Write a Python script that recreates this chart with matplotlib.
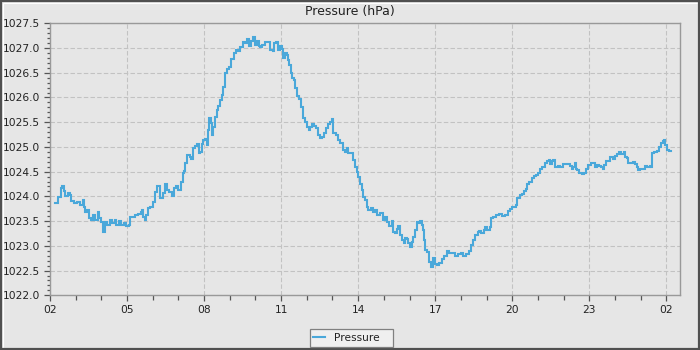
import matplotlib
matplotlib.use("Agg")
import matplotlib.pyplot as plt
from matplotlib.patches import Rectangle
from matplotlib.ticker import MultipleLocator, FixedLocator, FuncFormatter

# Minutes after 02:00 for each reading
minutes = [
    12, 19, 25, 28, 33, 35, 42, 46, 50, 56, 64, 69, 77, 79, 82, 87, 92, 95, 100, 104,
    111, 114, 118, 124, 128, 134, 140, 145, 151, 155, 161, 167, 173, 178, 184, 187, 194, 199, 206, 212,
    215, 217, 221, 225, 229, 234, 241, 245, 251, 257, 263, 269, 273, 279, 285, 290, 294, 300, 305, 310,
    313, 316, 319, 326, 329, 333, 339, 343, 348, 351, 355, 358, 362, 366, 370, 372, 376, 379, 382, 385,
    390, 393, 397, 401, 405, 409, 413, 418, 422, 427, 430, 435, 440, 444, 450, 456, 461, 466, 470, 474,
    478, 483, 488, 491, 496, 502, 509, 514, 520, 524, 527, 532, 538, 541, 545, 549, 553, 556, 559, 562,
    565, 569, 573, 577, 582, 587, 590, 596, 601, 605, 608, 613, 618, 622, 626, 631, 636, 641, 646, 650,
    655, 658, 662, 668, 674, 678, 684, 689, 693, 697, 705, 709, 713, 717, 720, 724, 728, 732, 736, 740,
    744, 749, 754, 760, 764, 770, 775, 779, 783, 788, 793, 799, 802, 806, 810, 814, 818, 822, 826, 830,
    833, 837, 841, 845, 849, 853, 857, 861, 865, 869, 872, 875, 877, 882, 886, 890, 894, 899, 905, 910,
    915, 921, 927, 932, 935, 941, 946, 954, 960, 966, 972, 978, 983, 988, 993, 999, 1003, 1008, 1013, 1017,
    1022, 1027, 1030, 1036, 1042, 1048, 1056, 1063, 1069, 1075, 1080, 1084, 1089, 1092, 1097, 1102, 1108, 1112, 1115, 1120,
    1126, 1131, 1136, 1141, 1145, 1149, 1153, 1157, 1161, 1165, 1168, 1172, 1176, 1180, 1186, 1192, 1198, 1204, 1209, 1215,
    1219, 1223, 1227, 1229, 1232, 1237, 1243, 1248, 1253, 1258, 1264, 1268, 1273, 1278, 1282, 1287, 1292, 1295, 1299, 1305,
    1309, 1315, 1320, 1324, 1329, 1334, 1340, 1344, 1348, 1351, 1357, 1362, 1367, 1371, 1375, 1379, 1385, 1391, 1396, 1401,
    1404, 1407, 1412, 1418, 1422, 1427, 1432, 1435, 1438, 1441, 1446, 1451,
]

# Station pressure in hPa
pressure = [
    1023.86, 1023.99, 1024.16, 1024.20, 1024.10, 1024.01, 1024.06, 1024.03, 1023.91, 1023.86,
    1023.89, 1023.83, 1023.93, 1023.79, 1023.69, 1023.72, 1023.56, 1023.52, 1023.62, 1023.52,
    1023.69, 1023.56, 1023.49, 1023.29, 1023.49, 1023.42, 1023.52, 1023.46, 1023.52, 1023.42,
    1023.51, 1023.42, 1023.46, 1023.40, 1023.42, 1023.59, 1023.58, 1023.62, 1023.64, 1023.69,
    1023.72, 1023.59, 1023.52, 1023.62, 1023.76, 1023.79, 1023.89, 1024.09, 1024.20, 1023.96,
    1024.06, 1024.26, 1024.13, 1024.09, 1024.01, 1024.16, 1024.20, 1024.12, 1024.30, 1024.47,
    1024.52, 1024.67, 1024.84, 1024.79, 1024.75, 1024.97, 1025.02, 1025.06, 1024.87, 1024.90,
    1025.06, 1025.15, 1025.17, 1025.04, 1025.34, 1025.58, 1025.48, 1025.24, 1025.41, 1025.61,
    1025.75, 1025.83, 1025.95, 1026.05, 1026.22, 1026.49, 1026.57, 1026.62, 1026.77, 1026.77,
    1026.89, 1026.97, 1026.93, 1027.03, 1027.13, 1027.11, 1027.18, 1027.04, 1027.15, 1027.23,
    1027.06, 1027.15, 1027.04, 1027.03, 1027.06, 1027.13, 1027.13, 1026.95, 1026.93, 1027.10,
    1027.13, 1026.97, 1027.04, 1026.99, 1026.79, 1026.89, 1026.86, 1026.76, 1026.66, 1026.49,
    1026.39, 1026.35, 1026.19, 1026.02, 1025.96, 1025.81, 1025.58, 1025.51, 1025.41, 1025.34,
    1025.41, 1025.46, 1025.42, 1025.38, 1025.24, 1025.19, 1025.21, 1025.28, 1025.38, 1025.46,
    1025.51, 1025.56, 1025.28, 1025.24, 1025.14, 1025.07, 1024.94, 1024.90, 1024.97, 1024.87,
    1024.88, 1024.74, 1024.60, 1024.50, 1024.40, 1024.26, 1024.13, 1023.99, 1023.93, 1023.79,
    1023.72, 1023.76, 1023.69, 1023.72, 1023.62, 1023.67, 1023.66, 1023.52, 1023.59, 1023.49,
    1023.40, 1023.51, 1023.29, 1023.25, 1023.35, 1023.40, 1023.22, 1023.12, 1023.05, 1023.15,
    1023.13, 1023.05, 1022.97, 1023.08, 1023.18, 1023.32, 1023.49, 1023.46, 1023.51, 1023.42,
    1023.32, 1023.12, 1022.92, 1022.88, 1022.68, 1022.57, 1022.75, 1022.63, 1022.61, 1022.65,
    1022.73, 1022.79, 1022.90, 1022.86, 1022.85, 1022.86, 1022.79, 1022.83, 1022.85, 1022.79,
    1022.83, 1022.90, 1023.02, 1023.12, 1023.22, 1023.27, 1023.31, 1023.25, 1023.33, 1023.38,
    1023.32, 1023.39, 1023.56, 1023.58, 1023.62, 1023.64, 1023.60, 1023.62, 1023.71, 1023.74,
    1023.79, 1023.78, 1023.83, 1023.96, 1024.03, 1024.05, 1024.11, 1024.14, 1024.25, 1024.30,
    1024.37, 1024.41, 1024.43, 1024.47, 1024.55, 1024.60, 1024.59, 1024.68, 1024.72, 1024.74,
    1024.65, 1024.72, 1024.74, 1024.59, 1024.61, 1024.60, 1024.65, 1024.65, 1024.65, 1024.61,
    1024.55, 1024.59, 1024.67, 1024.55, 1024.53, 1024.48, 1024.45, 1024.47, 1024.55, 1024.63,
    1024.67, 1024.67, 1024.59, 1024.63, 1024.61, 1024.60, 1024.55, 1024.63, 1024.72, 1024.72,
    1024.79, 1024.75, 1024.82, 1024.86, 1024.90, 1024.86, 1024.90, 1024.80, 1024.77, 1024.68,
    1024.68, 1024.70, 1024.65, 1024.60, 1024.53, 1024.55, 1024.55, 1024.61, 1024.60, 1024.61,
    1024.60, 1024.87, 1024.90, 1024.92, 1025.00, 1025.07, 1025.13, 1025.14, 1025.04, 1024.94,
    1024.92, 1024.92,
]

# Hour ticks every three hours, starting at 02:00
tick_minutes = [0, 180, 360, 540, 720, 900, 1080, 1260, 1440]
tick_labels = ["02", "05", "08", "11", "14", "17", "20", "23", "02"]

BG = "#e6e6e6"
LINE = "#4aa8da"
GRID = "#c2c2c2"
SPINE = "#999999"
TXT = "#222222"

fig = plt.figure(figsize=(7, 3.5), dpi=100, facecolor=BG)
ax = fig.add_axes([50 / 700, 54.7 / 350, 630 / 700, 272 / 350], facecolor=BG)

ax.plot(minutes, pressure, color=LINE, linewidth=1.5, drawstyle="steps-post",
        label="Pressure", solid_joinstyle="miter")

ax.set_xlim(0, 1472)
ax.set_ylim(1022.0, 1027.5)

ax.xaxis.set_major_locator(FixedLocator(tick_minutes))
ax.set_xticklabels(tick_labels)
ax.xaxis.set_minor_locator(MultipleLocator(60))
ax.yaxis.set_major_locator(MultipleLocator(0.5))
ax.yaxis.set_minor_locator(MultipleLocator(0.1))
ax.yaxis.set_major_formatter(FuncFormatter(lambda v, p: f"{v:.1f}"))

ax.tick_params(axis="both", which="major", direction="out", length=4, width=0.9,
               color="#555555", labelsize=7.7, labelcolor=TXT, pad=3)
ax.tick_params(axis="both", which="minor", direction="out", length=2.5, width=0.9,
               color="#555555")
ax.tick_params(axis="x", which="minor", length=3.5)

for s in ax.spines.values():
    s.set_color(SPINE)
    s.set_linewidth(1.0)

ax.grid(True, which="major", color=GRID, linestyle=(0, (4, 2)), linewidth=0.8)
ax.set_axisbelow(True)

fig.text(0.5, 1 - 12 / 350, "Pressure (hPa)", ha="center", va="center",
         fontsize=9, color=TXT)

leg = fig.legend(loc="center", mode="expand",
                 bbox_to_anchor=(309.5 / 700, 3.3 / 350, 83 / 700, 17.4 / 350),
                 fontsize=7.7, frameon=True, fancybox=False, handlelength=1.1,
                 handletextpad=0.85, borderpad=0.35, borderaxespad=0)
leg.get_frame().set_facecolor("#efefef")
leg.get_frame().set_edgecolor("#808080")
leg.get_frame().set_linewidth(0.9)
leg.get_frame().set_alpha(1)
for t in leg.get_texts():
    t.set_color(TXT)

# Outer frame: dark border with thin light inner edge
fig.patches.append(Rectangle((2.5 / 700, 2.5 / 350), 695 / 700, 345 / 350,
                             transform=fig.transFigure, fill=False,
                             edgecolor="white", linewidth=0.8))
fig.patches.append(Rectangle((1 / 700, 1 / 350), 698 / 700, 348 / 350,
                             transform=fig.transFigure, fill=False,
                             edgecolor="#505050", linewidth=1.6))

fig.savefig("out.png", dpi=100, facecolor=BG)
